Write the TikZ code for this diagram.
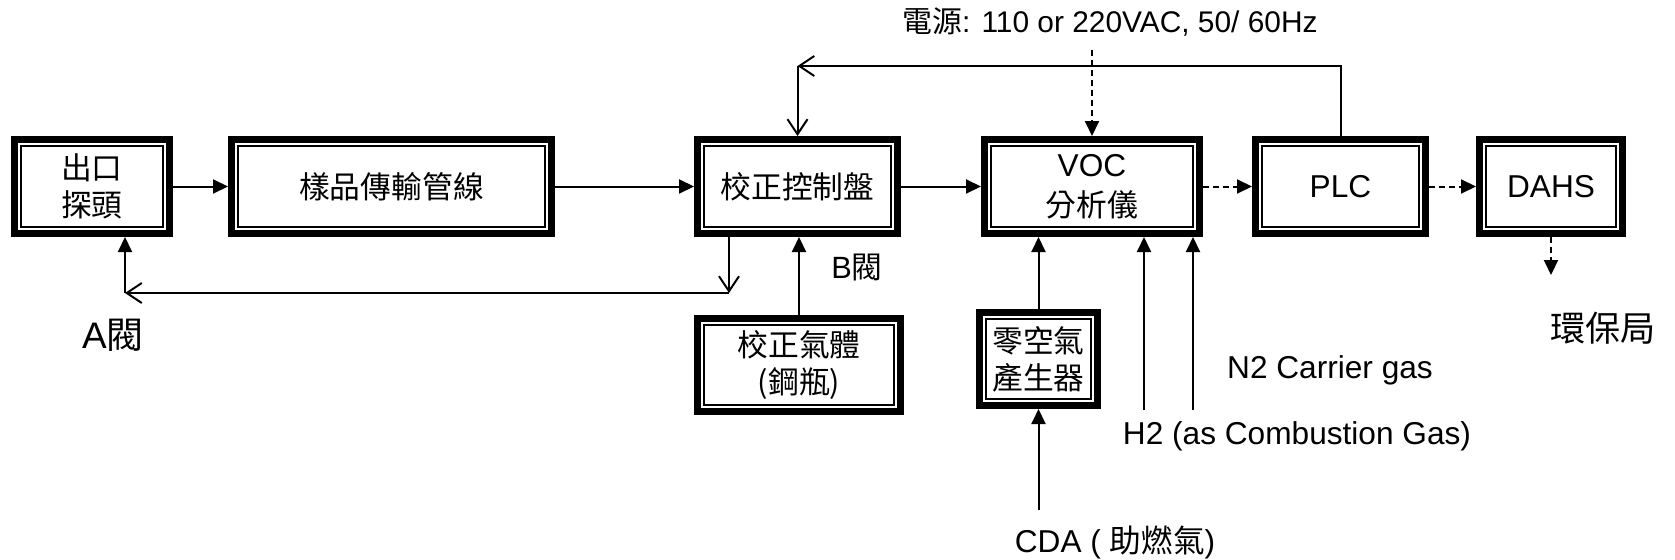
\documentclass[tikz,border=0pt]{standalone}
\usepackage{fontspec}
\setmainfont{Liberation Sans}
\newfontfamily\cjk{Noto Sans CJK TC}
\usetikzlibrary{arrows.meta}

\tikzset{
  unitbox/.style={draw, line width=0.14cm, minimum height=1.88cm, inner sep=0pt, align=center,
    font=\cjk\fontsize{17.5}{21}\selectfont,
    path picture={\draw[line width=0.04cm]
      ([shift={(0.13,0.13)}]path picture bounding box.south west) rectangle
      ([shift={(-0.13,-0.13)}]path picture bounding box.north east);}},
  flow/.style={line width=0.04cm, -{Triangle[length=0.3cm,width=0.28cm]}},
  signal/.style={flow, dash pattern=on 0.12cm off 0.08cm},
  valve/.style={line width=0.04cm, -{Straight Barb[length=0.3cm,width=0.4cm]}},
  note/.style={font=\fontsize{18}{21}\selectfont}
}

\begin{document}
\begin{tikzpicture}[x=1cm,y=1cm]
\useasboundingbox (0,0) rectangle (33.5,-11.2);
% main row
\node[unitbox, minimum width=3.10cm] (probe) at (1.84,-3.73) {出口\\探頭};
\node[unitbox, minimum width=6.40cm] (line) at (7.83,-3.73) {樣品傳輸管線};
\node[unitbox, minimum width=4.00cm] (ctrl) at (15.95,-3.73) {校正控制盤};
\node[unitbox, minimum width=4.30cm, font=\cjk\fontsize{17.5}{23}\selectfont] (voc) at (21.84,-3.73) {{\rmfamily\fontsize{18}{23}\selectfont VOC}\\分析儀};
\node[unitbox, minimum width=3.40cm, font=\fontsize{18}{21}\selectfont] (plc) at (26.81,-3.73) {PLC};
\node[unitbox, minimum width=2.86cm, font=\fontsize{18}{21}\selectfont] (dahs) at (31.02,-3.73) {DAHS};
% gas supplies
\node[unitbox, minimum width=4.06cm, minimum height=1.86cm] (calgas) at (15.98,-7.30) {校正氣體\\(鋼瓶)};
\node[unitbox, minimum width=2.36cm, minimum height=1.86cm] (zero) at (20.77,-7.18) {零空氣\\產生器};
% labels
\node[note, font=\fontsize{21}{24}\selectfont] (avalve) at (2.26,-6.70) {A{\cjk 閥}};
\node[note, font=\fontsize{17.5}{21}\selectfont] (bvalve) at (17.14,-5.34) {B{\cjk 閥}};
\node[note, font=\cjk\fontsize{20}{24}\selectfont] (epa) at (32.06,-6.56) {環保局};
\node[note] (n2lbl) at (26.6,-7.40) {N2 Carrier gas};
\node[note] (h2lbl) at (25.94,-8.72) {H2 (as Combustion Gas)};
\node[note] (cdalbl) at (22.3,-10.84) {CDA ( {\cjk 助燃氣})};
\node[note, font=\fontsize{17}{20}\selectfont] (pwrlbl) at (22.2,-0.44) {{\cjk 電源}: 110 or 220VAC, 50/ 60Hz};
% free ends
\coordinate (fbk) at (15.95,-1.32);
\coordinate (ret) at (14.58,-5.86);
\coordinate (retA) at (2.50,-5.86);
\coordinate (pwr) at (21.84,-1.00);
\coordinate (n2) at (22.88,-8.20);
\coordinate (h2) at (23.86,-8.20);
\coordinate (cda) at (20.77,-10.20);
\coordinate (toepa) at (31.02,-5.50);
% connectors
\draw[flow] (probe) -- (line);
\draw[flow] (line) -- (ctrl);
\draw[flow] (ctrl) -- (voc);
\draw[signal] (voc) -- (plc);
\draw[signal] (plc) -- (dahs);
\draw[signal] (dahs) -- (toepa);
\draw[signal] (pwr) -- (voc);
\draw[valve] (plc.north) |- (fbk);
\draw[valve] (fbk) -- (ctrl);
\draw[valve] (ret |- ctrl.south) -- (ret);
\draw[valve] (ret) -- (retA);
\draw[flow] (retA) -- (retA |- probe.south);
\draw[flow] (calgas.north) -- (calgas.north |- ctrl.south);
\draw[flow] (zero) -- (zero |- voc.south);
\draw[flow] (n2) -- (n2 |- voc.south);
\draw[flow] (h2) -- (h2 |- voc.south);
\draw[flow] (cda) -- (zero);
\end{tikzpicture}
\end{document}
